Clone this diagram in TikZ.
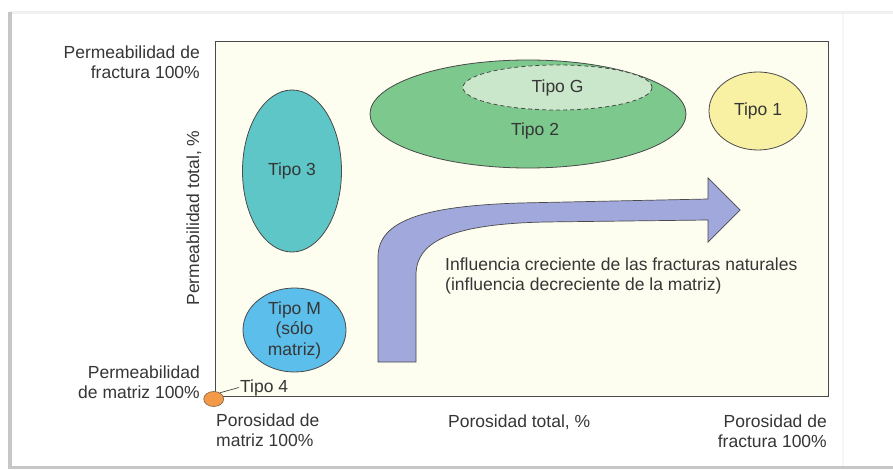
\documentclass[tikz,border=0pt]{standalone}
\usepackage{fontspec}
\setmainfont{Liberation Sans}
\usetikzlibrary{shapes.geometric}
\definecolor{txt}{HTML}{363636}
\definecolor{bgcream}{HTML}{FDFDF0}
\definecolor{edge}{HTML}{4A4A4A}
\definecolor{cteal}{HTML}{5EC6C6}
\definecolor{cblue}{HTML}{5CBEEA}
\definecolor{cgreen}{HTML}{7DC88C}
\definecolor{clgreen}{HTML}{CBE7CB}
\definecolor{cyellow}{HTML}{F8F0A2}
\definecolor{corange}{HTML}{F29A48}
\definecolor{carrow}{HTML}{A0A8DC}
\tikzset{
  lbl/.style={inner sep=0pt, text=txt, font=\fontsize{17.5}{20.5}\selectfont},
  blob/.style={ellipse, draw=edge, line width=0.8pt, inner sep=0pt, text=txt,
    font=\fontsize{17.5}{20.5}\selectfont, align=center},
}
\begin{document}
\begin{tikzpicture}[x=1pt,y=-1pt]
\useasboundingbox (0,0) rectangle (893,470);
\fill[white] (0,0) rectangle (893,470);
% page frame
\fill[gray!12] (10,11) rectangle (893,14);
\fill[gray!6] (842,14) rectangle (844,466);
\fill[gray!45] (8,12) rectangle (12,468);
\fill[gray!45] (8,465.5) rectangle (893,469);
% plot frame
\node[draw=edge, line width=1.2pt, fill=bgcream, minimum width=612.5pt, minimum height=355pt, inner sep=0pt, anchor=north west] (frame) at (215,41) {};
% arrow
\filldraw[fill=carrow, draw=edge, line width=0.7pt, line join=miter]
  (378,362) -- (378,257) .. controls (378,220) and (425,206) .. (520,203) -- (708,199)
  -- (708,178) -- (740,210) -- (708,242) -- (708,220) -- (545,222)
  .. controls (455,224) and (416,240) .. (416,275) -- (416,362) -- cycle;
% ellipses
\node[blob, fill=cteal, minimum width=99pt, minimum height=162pt] (t3) at (292,171) {Tipo 3};
\node[blob, fill=cblue, minimum width=103pt, minimum height=84pt] (tm) at (294.5,330) {Tipo M\\(sólo\\matriz)};
\node[blob, fill=cgreen, minimum width=316pt, minimum height=108pt] (t2) at (528,114) {};
\node[lbl] (t2l) at (535,131) {Tipo 2};
\node[blob, fill=clgreen, dashed, dash pattern=on 4pt off 3pt, minimum width=189pt, minimum height=45pt] (tg) at (557.5,87.5) {Tipo G};
\node[blob, fill=cyellow, minimum width=98pt, minimum height=78pt] (t1) at (758,111) {Tipo 1};
\node[ellipse, draw=edge!70!corange, line width=0.6pt, fill=corange, minimum width=20pt, minimum height=15pt, inner sep=0pt] (t4) at (213.7,399) {};
\node[lbl, anchor=base west] (t4l) at (240,392) {Tipo 4};
\draw[edge, line width=0.7pt] (t4.45) -- ([xshift=-1pt]t4l.west);
% axis labels
\node[lbl, align=right, anchor=north east] (pf) at (200,45.5) {Permeabilidad de\\fractura 100\%};
\node[lbl, rotate=90] (pt) at (194,218) {Permeabilidad total, \%};
\node[lbl, align=right, anchor=north east] (pm) at (200,365.5) {Permeabilidad\\de matriz 100\%};
\node[lbl, align=left, anchor=north west] (om) at (216,413.5) {Porosidad de\\matriz 100\%};
\node[lbl, anchor=base west] (ot) at (448,427) {Porosidad total, \%};
\node[lbl, align=right, anchor=north east] (of) at (827,414.5) {Porosidad de\\fractura 100\%};
\node[lbl, align=left, anchor=north west] (inf) at (445,257.5) {Influencia creciente de las fracturas naturales\\(influencia decreciente de la matriz)};
\end{tikzpicture}
\end{document}
